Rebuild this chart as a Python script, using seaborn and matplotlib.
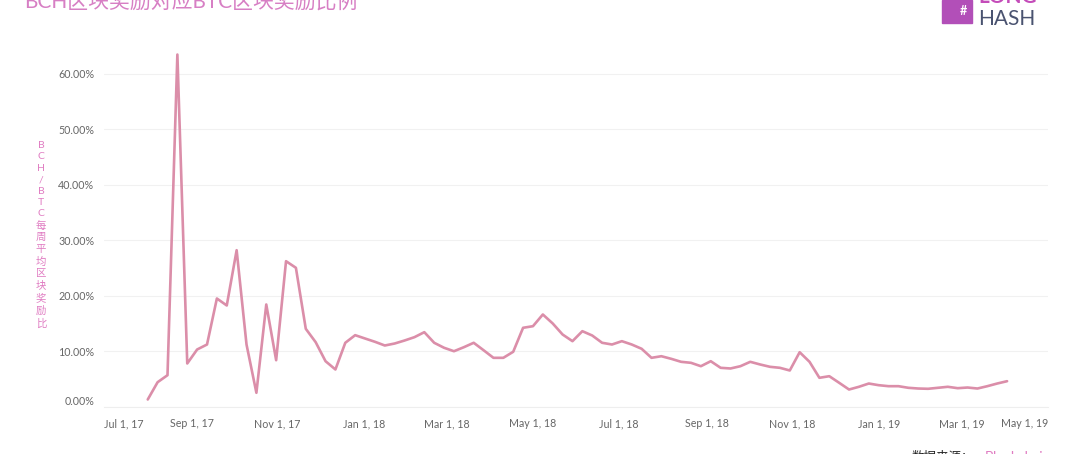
import pandas as pd
import numpy as np
import seaborn as sns
import matplotlib.pyplot as plt
import matplotlib.dates as mdates
from matplotlib.patches import Rectangle
from matplotlib.ticker import FuncFormatter

# Weekly BCH/BTC block reward ratio (first week starts Aug 1, 2017)
start_date = "2017-08-01"
ratio = [
    0.0135, 0.0447, 0.0573, 0.6350, 0.0784, 0.1036, 0.1126, 0.1955, 0.1829, 0.2825,
    0.1126, 0.0256, 0.1847, 0.0843, 0.2627, 0.2508, 0.1409, 0.1168, 0.0825, 0.0676,
    0.1157, 0.1294, 0.1234, 0.1175, 0.1108, 0.1144, 0.1198, 0.1258, 0.1348, 0.1157,
    0.1067, 0.1005, 0.1077, 0.1157, 0.1023, 0.0886, 0.0886, 0.0995, 0.1427, 0.1456,
    0.1667, 0.1505, 0.1306, 0.1186, 0.1366, 0.1288, 0.1157, 0.1126, 0.1186, 0.1126,
    0.1049, 0.0886, 0.0915, 0.0868, 0.0814, 0.0796, 0.0735, 0.0825, 0.0706, 0.0694,
    0.0735, 0.0814, 0.0766, 0.0724, 0.0706, 0.0658, 0.0987, 0.0814, 0.0526, 0.0555,
    0.0436, 0.0315, 0.0364, 0.0423, 0.0393, 0.0375, 0.0375, 0.0346, 0.0333, 0.0328,
    0.0346, 0.0364, 0.0339, 0.0351, 0.0333, 0.0375, 0.0423, 0.0465,
]
y_ticks = [0.0, 0.1, 0.2, 0.3, 0.4, 0.5, 0.6]

title = "BCH区块奖励对应BTC区块奖励比例"
y_label = "BCH/BTC每周平均区块奖励比"
source_label = "数据来源："
source_name = "Blockchair"

df = pd.DataFrame({
    "week": pd.date_range(start_date, periods=len(ratio), freq="7D"),
    "ratio": ratio,
})

sns.set_style("white")
plt.rcParams["font.family"] = ["Lato", "Noto Sans CJK SC", "DejaVu Sans"]

fig = plt.figure(figsize=(10.8, 4.54), dpi=100)
ax = fig.add_axes([104 / 1080, 47 / 454, (1048 - 104) / 1080, (405 - 47) / 454])

sns.lineplot(data=df, x="week", y="ratio", ax=ax, color="#DB8EA9", linewidth=1.9)

ax.set_xlim(pd.Timestamp("2017-07-01"), pd.Timestamp("2019-05-01"))
ax.set_ylim(0, 0.645)
ax.set_yticks(y_ticks)
ax.yaxis.set_major_formatter(FuncFormatter(lambda v, p: f"{v * 100:.2f}%"))
ax.xaxis.set_major_locator(mdates.MonthLocator(bymonth=[1, 3, 5, 7, 9, 11]))
ax.xaxis.set_major_formatter(FuncFormatter(
    lambda v, p: (lambda d: f"{d.strftime('%b')} {d.day}, {d.strftime('%y')}")(mdates.num2date(v))))

ax.tick_params(axis="both", length=0, labelsize=7.7, colors="#666666")
ax.tick_params(axis="y", pad=7)
ax.tick_params(axis="x", pad=8)
ax.set_xlabel("")
ax.set_ylabel("")
ax.grid(axis="y", color="#f1f1f1", linewidth=0.8)
for s in ["top", "right", "left"]:
    ax.spines[s].set_visible(False)
ax.spines["bottom"].set_color("#eeeeee")
ax.spines["bottom"].set_linewidth(0.8)

# keep edge tick labels inside the pane, like the original
xlabels = ax.get_xticklabels()
xlabels[0].set_horizontalalignment("left")
xlabels[-1].set_horizontalalignment("right")
ax.get_yticklabels()[0].set_verticalalignment("bottom")

# vertical stacked axis title
fig.text(41 / 1080, 1 - 235 / 454, "\n".join(y_label), ha="center", va="center",
         fontsize=7.5, color="#E07CC2", linespacing=1.34)

# title, cut off at the top edge
fig.text(24 / 1080, 1 - 3 / 454, title, ha="left", va="center", fontsize=15,
         color="#D77FC4")

# logo
fig.patches.append(Rectangle((942 / 1080, 1 - 23 / 454), 30 / 1080, 23 / 454,
                             transform=fig.transFigure, color="#B24FB8", zorder=2))
fig.text(963 / 1080, 1 - 11 / 454, "#", ha="center", va="center", fontsize=9,
         color="white", fontweight="bold")
fig.text(978 / 1080, 1 + 3 / 454, "LONG", ha="left", va="center", fontsize=15,
         color="#C44CB9", fontweight="bold")
fig.text(978 / 1080, 1 - 19 / 454, "HASH", ha="left", va="center", fontsize=15,
         color="#4A5370")

# data source, cut off at the bottom edge
fig.text(912 / 1080, 1 - 457 / 454, source_label, ha="left", va="center",
         fontsize=9, color="#222222")
fig.text(985 / 1080, 1 - 457 / 454, source_name, ha="left", va="center",
         fontsize=10, color="#E07CC2")

fig.savefig("out.png", dpi=100, facecolor="white")
